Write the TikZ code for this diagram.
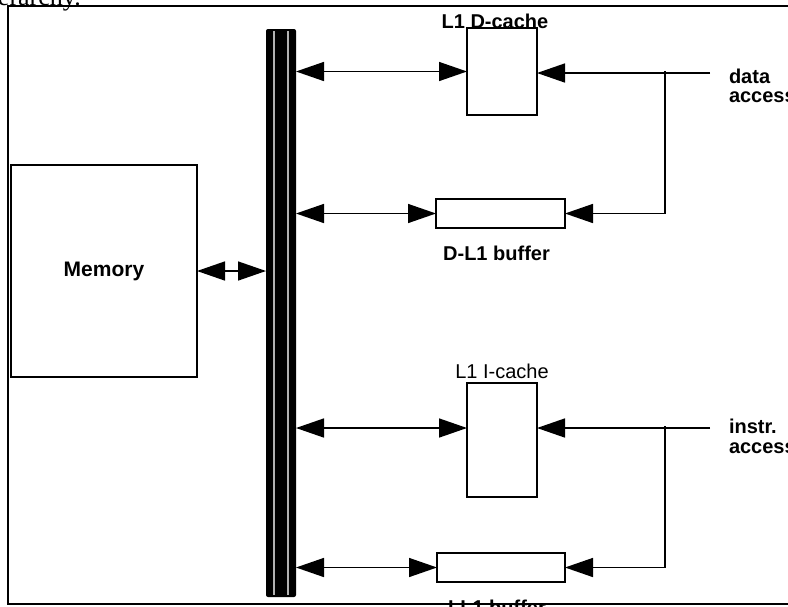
\documentclass[tikz,border=0pt]{standalone}
\usepackage{fontspec}
\setmainfont{Liberation Sans}
\newfontfamily\captfont{Liberation Serif}
\usetikzlibrary{positioning,arrows.meta}

\begin{document}
\begin{tikzpicture}[x=1pt, y=-1pt,
  every node/.style={font=\fontsize{20}{17}\selectfont\bfseries, inner sep=0pt, outer sep=0pt},
  unitbox/.style={draw, line width=1.5pt, fill=white},
  lbl/.style={anchor=base},
  acclbl/.style={anchor=base west},
  bidir/.style={{Triangle[length=28pt,width=19pt]}-{Triangle[length=28pt,width=19pt]}, line width=1.5pt},
  feed/.style={-{Triangle[length=28pt,width=19pt]}, line width=1.5pt}
]
\useasboundingbox (0,0) rectangle (788,606);
\clip (0,0) rectangle (788,606);

% frame and clipped caption line above it
\node[font=\captfont\fontsize{26}{26}\selectfont, anchor=base west] (capt) at (-2,5) {erarchy.};
\draw[line width=2pt] (800,6) -- (7.5,6) -- (7.5,604) -- (800,604);

% bus
\node[fill=black, rounded corners=2pt, minimum width=30pt, minimum height=568pt] (bus) at (281,313) {};
\draw[gray!60, line width=1.5pt] ([xshift=-7pt,yshift=-2pt]bus.north) -- ([xshift=-7pt,yshift=2pt]bus.south);
\draw[gray!60, line width=1.5pt] ([xshift=7pt,yshift=-2pt]bus.north) -- ([xshift=7pt,yshift=2pt]bus.south);

% memory
\node[unitbox, minimum width=186pt, minimum height=212pt, font=\fontsize{21}{21}\selectfont\bfseries] (mem) at (104,271) {Memory};

% data side
\node[unitbox, minimum width=70pt, minimum height=87pt] (dcache) at (502,71.5) {};
\node[lbl] (dcachelbl) at ([xshift=-7pt]dcache.north) {L1 D-cache};
\node[unitbox, minimum width=129pt, minimum height=29pt] (dbuf) at (500.5,213.5) {};
\node[lbl] (dbuflbl) at ([xshift=-4pt,yshift=-32pt]dbuf.south) {D-L1 buffer};

% instruction side
\node[unitbox, minimum width=70pt, minimum height=114pt] (icache) at (502,440) {};
\node[lbl, font=\fontsize{20}{17}\selectfont] (icachelbl) at ([yshift=5pt]icache.north) {L1 I-cache};
\node[unitbox, minimum width=128pt, minimum height=29pt] (ibuf) at (501,567.5) {};
\node[lbl] (ibuflbl) at ([xshift=-4pt,yshift=-32pt]ibuf.south) {I-L1 buffer};

% access inputs
\coordinate (dacc) at (710,73);
\coordinate (dsplit) at (665,73);
\coordinate (iacc) at (710,428);
\coordinate (isplit) at (665,428);
\coordinate (iport) at ([yshift=12pt]icache.west);
\node[acclbl] (daccA) at (729,83) {data};
\node[acclbl] (daccB) at (729,102) {access};
\node[acclbl] (iaccA) at (729,433) {instr.};
\node[acclbl] (iaccB) at (729,453) {access};

\draw[bidir] (mem.east) -- (bus.west |- mem.east);
\draw[bidir] (bus.east |- dcache.west) -- (dcache.west);
\draw[bidir] (bus.east |- dbuf.west) -- (dbuf.west);
\draw[bidir] (bus.east |- iport) -- (iport);
\draw[bidir] (bus.east |- ibuf.west) -- (ibuf.west);

\draw[feed] (dacc) -- (dcache.east |- dacc);
\draw[feed] ([yshift=2pt]dsplit) |- (dbuf.east);
\draw[feed] (iacc) -- (icache.east |- iacc);
\draw[feed] ([yshift=2pt]isplit) |- (ibuf.east);
\end{tikzpicture}
\end{document}
